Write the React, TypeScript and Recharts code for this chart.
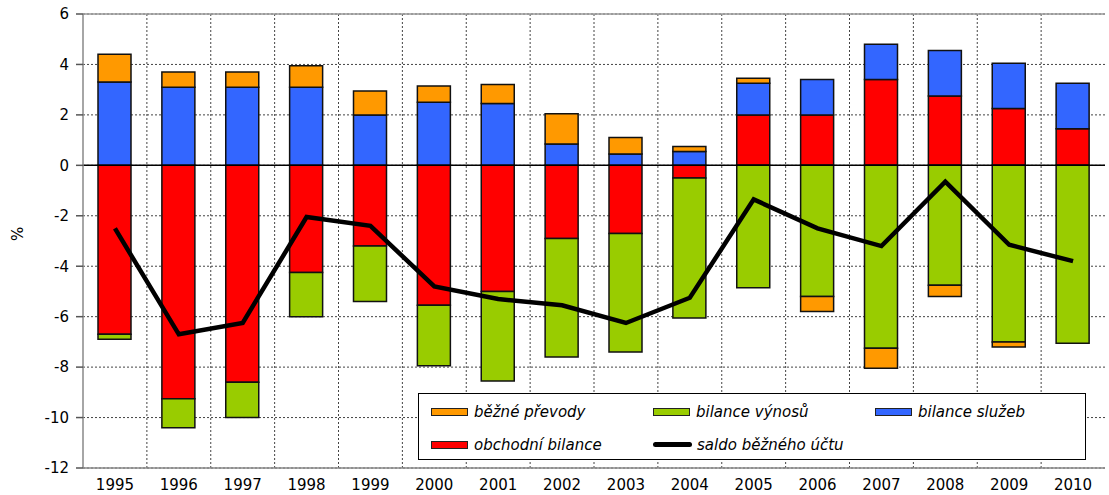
import {
  ComposedChart,
  Bar,
  Line,
  XAxis,
  YAxis,
  CartesianGrid,
  ReferenceLine
} from 'recharts';

const years = ['1995', '1996', '1997', '1998', '1999', '2000', '2001', '2002', '2003', '2004', '2005', '2006', '2007', '2008', '2009', '2010'];

// obchodní bilance
const obchodni = [-6.7, -9.25, -8.6, -4.25, -3.2, -5.55, -5.0, -2.9, -2.7, -0.5, 2.0, 2.0, 3.4, 2.75, 2.25, 1.45];
// bilance výnosů
const vynosy = [-0.2, -1.15, -1.4, -1.75, -2.2, -2.4, -3.55, -4.7, -4.7, -5.55, -4.85, -5.2, -7.25, -4.75, -7.0, -7.05];
// bilance služeb
const sluzby = [3.3, 3.1, 3.1, 3.1, 2.0, 2.5, 2.45, 0.85, 0.45, 0.55, 1.25, 1.4, 1.4, 1.8, 1.8, 1.8];
// běžné převody
const prevody = [1.1, 0.6, 0.6, 0.85, 0.95, 0.65, 0.75, 1.2, 0.65, 0.2, 0.2, -0.6, -0.8, -0.45, -0.2, 0];
// saldo běžného účtu
const saldo = [-2.5, -6.7, -6.25, -2.05, -2.4, -4.8, -5.3, -5.55, -6.25, -5.25, -1.35, -2.5, -3.2, -0.65, -3.15, -3.8];

const yTicks = [6, 4, 2, 0, -2, -4, -6, -8, -10, -12];

const data = years.map((year, i) => ({
  year,
  obchodni: obchodni[i],
  vynosy: vynosy[i],
  sluzby: sluzby[i],
  prevody: prevody[i],
  saldo: saldo[i]
}));

const FONT = '"DejaVu Sans", Arial, sans-serif';

const legendItems = [
  { label: 'běžné převody', color: '#ff9900', type: 'bar' },
  { label: 'bilance výnosů', color: '#99cc00', type: 'bar' },
  { label: 'bilance služeb', color: '#3366ff', type: 'bar' },
  { label: 'obchodní bilance', color: '#ff0000', type: 'bar' },
  { label: 'saldo běžného účtu', color: '#000000', type: 'line' }
];

const LegendBox = () => (
  <div
    style={{
      position: 'absolute',
      left: 418,
      top: 393,
      width: 668,
      height: 67,
      boxSizing: 'border-box',
      border: '1.5px solid #000',
      background: '#fff',
      display: 'grid',
      gridTemplateColumns: '222px 222px 222px',
      gridTemplateRows: '33px 33px',
      paddingTop: 1,
      fontFamily: FONT,
      fontStyle: 'italic',
      fontSize: 15,
      color: '#000'
    }}
  >
    {legendItems.map(item => (
      <div key={item.label} style={{ display: 'flex', alignItems: 'center', paddingLeft: 12, whiteSpace: 'nowrap' }}>
        {item.type === 'bar' ? (
          <span
            style={{
              display: 'inline-block',
              width: 35,
              height: 6,
              background: item.color,
              border: '1.5px solid #222',
              marginRight: 6
            }}
          />
        ) : (
          <span
            style={{
              display: 'inline-block',
              width: 39,
              height: 5,
              borderRadius: 3,
              background: item.color,
              marginRight: 5
            }}
          />
        )}
        {item.label}
      </div>
    ))}
  </div>
);

export default function App() {
  const W = 1109;
  const H = 495;
  return (
    <div style={{ position: 'absolute', left: 0, top: 0, width: W, height: H, background: '#fff' }}>
      <ComposedChart
        width={W}
        height={H}
        data={data}
        stackOffset="sign"
        barCategoryGap={0}
        margin={{ top: 14, right: 4, bottom: 0, left: 0 }}
      >
        <CartesianGrid
          stroke="#444"
          strokeDasharray="2 2"
          verticalCoordinatesGenerator={({ offset }: any) =>
            years.map((_, i) => offset.left + (offset.width * i) / years.length).slice(1)
          }
        />
        <XAxis
          dataKey="year"
          height={27}
          tickLine={false}
          axisLine={{ stroke: '#888', strokeWidth: 1.5 }}
          tick={{ fontSize: 15, fill: '#000', fontFamily: FONT }}
          tickMargin={5}
          interval={0}
        />
        <YAxis
          width={83}
          domain={[-12, 6]}
          ticks={yTicks}
          allowDataOverflow
          tickSize={7}
          tickMargin={7}
          tickLine={{ stroke: '#555', strokeWidth: 1.5 }}
          axisLine={{ stroke: '#888', strokeWidth: 1.5 }}
          tick={{ fontSize: 15, fill: '#000', fontFamily: FONT }}
          label={{
            value: '%',
            angle: -90,
            position: 'insideLeft',
            offset: 18,
            style: { fontSize: 15, fill: '#000', fontFamily: FONT }
          }}
        />
        <ReferenceLine y={6} stroke="#999" strokeWidth={1.5} />
        <Bar dataKey="obchodni" stackId="a" fill="#ff0000" stroke="#111" strokeWidth={1.5} barSize={33} isAnimationActive={false} />
        <Bar dataKey="vynosy" stackId="a" fill="#99cc00" stroke="#111" strokeWidth={1.5} barSize={33} isAnimationActive={false} />
        <Bar dataKey="sluzby" stackId="a" fill="#3366ff" stroke="#111" strokeWidth={1.5} barSize={33} isAnimationActive={false} />
        <Bar dataKey="prevody" stackId="a" fill="#ff9900" stroke="#111" strokeWidth={1.5} barSize={33} isAnimationActive={false} />
        <ReferenceLine y={0} stroke="#000" strokeWidth={1.5} />
        <Line
          dataKey="saldo"
          type="linear"
          stroke="#000"
          strokeWidth={4.5}
          dot={false}
          activeDot={false}
          isAnimationActive={false}
        />
      </ComposedChart>
      <LegendBox />
    </div>
  );
}
